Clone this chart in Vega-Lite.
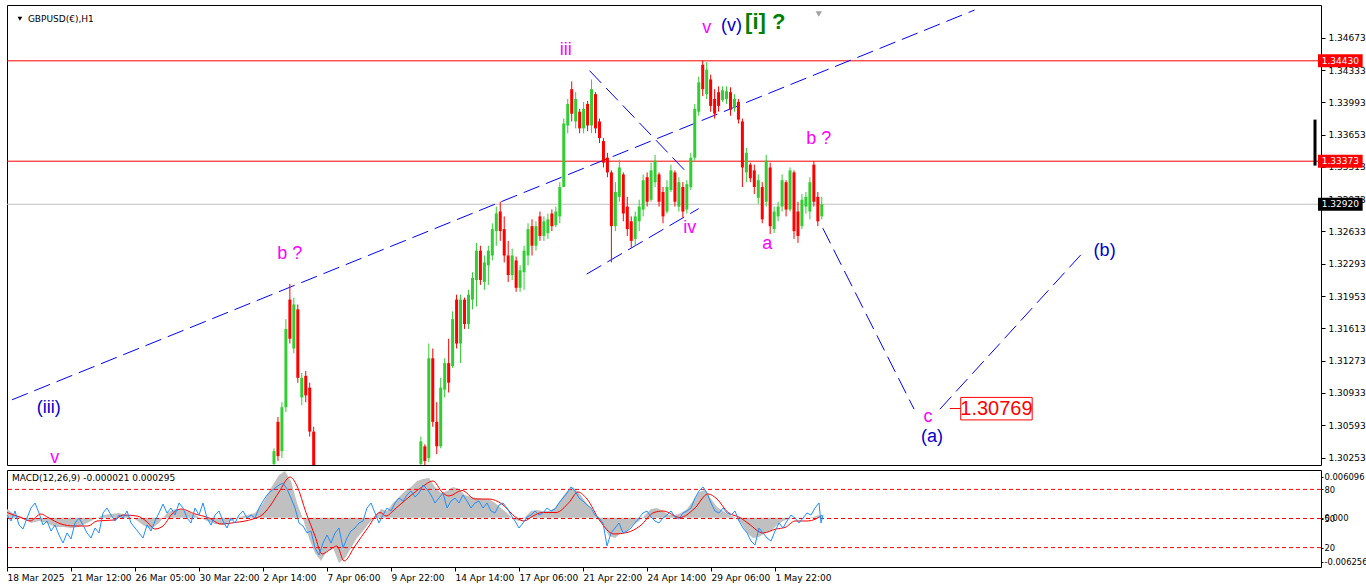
{
"$schema": "https://vega.github.io/schema/vega-lite/v6.json",
"background": "white",
"padding": {"left": 4, "top": 4, "right": 0, "bottom": 0},
"spacing": 3,
"config": {"view": {"stroke": "black", "strokeWidth": 1}, "axis": {"grid": false, "domain": false, "tickColor": "black", "labelColor": "black", "labelFont": "DejaVu Sans", "labelFontSize": 9, "labelOverlap": false, "labelFlush": false, "labelBound": false}},
"datasets": {
"candles": [
{"h":264,"o":1.30186,"hi":1.30350,"lo":1.30165,"c":1.30320},
{"h":268,"o":1.30629,"hi":1.30680,"lo":1.30217,"c":1.30268},
{"h":272,"o":1.30320,"hi":1.30835,"lo":1.30247,"c":1.30783},
{"h":276,"o":1.30783,"hi":1.31710,"lo":1.30732,"c":1.31607},
{"h":280,"o":1.31916,"hi":1.32081,"lo":1.31453,"c":1.31504},
{"h":284,"o":1.31401,"hi":1.31937,"lo":1.31350,"c":1.31865},
{"h":288,"o":1.31813,"hi":1.31865,"lo":1.31041,"c":1.31092},
{"h":292,"o":1.30886,"hi":1.31144,"lo":1.30804,"c":1.31092},
{"h":296,"o":1.31113,"hi":1.31164,"lo":1.30835,"c":1.30907},
{"h":300,"o":1.30989,"hi":1.31041,"lo":1.30474,"c":1.30526},
{"h":304,"o":1.30526,"hi":1.30577,"lo":1.30114,"c":1.30165},
{"h":412,"o":1.30186,"hi":1.30474,"lo":1.30165,"c":1.30423},
{"h":416,"o":1.30371,"hi":1.30392,"lo":1.30165,"c":1.30217},
{"h":420,"o":1.30247,"hi":1.31453,"lo":1.30206,"c":1.31298},
{"h":424,"o":1.31298,"hi":1.31401,"lo":1.30577,"c":1.30629},
{"h":428,"o":1.30629,"hi":1.30835,"lo":1.30289,"c":1.30371},
{"h":432,"o":1.30371,"hi":1.31092,"lo":1.30350,"c":1.30989},
{"h":436,"o":1.30968,"hi":1.31298,"lo":1.30886,"c":1.31247},
{"h":440,"o":1.31247,"hi":1.31504,"lo":1.30938,"c":1.31041},
{"h":444,"o":1.31216,"hi":1.31792,"lo":1.31195,"c":1.31710},
{"h":448,"o":1.31916,"hi":1.31968,"lo":1.31401,"c":1.31453},
{"h":452,"o":1.31453,"hi":1.31968,"lo":1.31247,"c":1.31916},
{"h":456,"o":1.31916,"hi":1.31937,"lo":1.31607,"c":1.31659},
{"h":460,"o":1.31659,"hi":1.32019,"lo":1.31607,"c":1.31968},
{"h":464,"o":1.31916,"hi":1.32204,"lo":1.31813,"c":1.32143},
{"h":468,"o":1.32122,"hi":1.32513,"lo":1.31844,"c":1.32431},
{"h":472,"o":1.32431,"hi":1.32483,"lo":1.32071,"c":1.32122},
{"h":476,"o":1.32101,"hi":1.32380,"lo":1.32019,"c":1.32307},
{"h":480,"o":1.32277,"hi":1.32483,"lo":1.32071,"c":1.32431},
{"h":484,"o":1.32380,"hi":1.32719,"lo":1.32328,"c":1.32658},
{"h":488,"o":1.32637,"hi":1.32895,"lo":1.32483,"c":1.32822},
{"h":492,"o":1.32843,"hi":1.32946,"lo":1.32534,"c":1.32637},
{"h":496,"o":1.32658,"hi":1.32792,"lo":1.32307,"c":1.32380},
{"h":500,"o":1.32380,"hi":1.32534,"lo":1.32101,"c":1.32174},
{"h":504,"o":1.32174,"hi":1.32452,"lo":1.32122,"c":1.32380},
{"h":508,"o":1.32328,"hi":1.32369,"lo":1.31998,"c":1.32040},
{"h":512,"o":1.32040,"hi":1.32277,"lo":1.31998,"c":1.32225},
{"h":516,"o":1.32204,"hi":1.32483,"lo":1.32019,"c":1.32431},
{"h":520,"o":1.32380,"hi":1.32719,"lo":1.32277,"c":1.32658},
{"h":524,"o":1.32689,"hi":1.32761,"lo":1.32380,"c":1.32483},
{"h":528,"o":1.32483,"hi":1.32740,"lo":1.32431,"c":1.32689},
{"h":532,"o":1.32792,"hi":1.32843,"lo":1.32534,"c":1.32586},
{"h":536,"o":1.32586,"hi":1.32792,"lo":1.32534,"c":1.32740},
{"h":540,"o":1.32616,"hi":1.32822,"lo":1.32555,"c":1.32761},
{"h":544,"o":1.32822,"hi":1.32864,"lo":1.32637,"c":1.32689},
{"h":548,"o":1.32699,"hi":1.32895,"lo":1.32678,"c":1.32843},
{"h":552,"o":1.32792,"hi":1.33152,"lo":1.32719,"c":1.33101},
{"h":556,"o":1.33101,"hi":1.33822,"lo":1.33101,"c":1.33770},
{"h":560,"o":1.33749,"hi":1.34028,"lo":1.33667,"c":1.33976},
{"h":564,"o":1.34131,"hi":1.34213,"lo":1.33791,"c":1.33873},
{"h":568,"o":1.33791,"hi":1.34100,"lo":1.33719,"c":1.34028},
{"h":572,"o":1.33894,"hi":1.33925,"lo":1.33667,"c":1.33719},
{"h":576,"o":1.33719,"hi":1.33997,"lo":1.33667,"c":1.33925},
{"h":580,"o":1.33976,"hi":1.34007,"lo":1.33688,"c":1.33749},
{"h":584,"o":1.33749,"hi":1.34234,"lo":1.33667,"c":1.34131},
{"h":588,"o":1.34079,"hi":1.34100,"lo":1.33667,"c":1.33719},
{"h":592,"o":1.33791,"hi":1.33822,"lo":1.33564,"c":1.33616},
{"h":596,"o":1.33585,"hi":1.33616,"lo":1.33307,"c":1.33358},
{"h":600,"o":1.33410,"hi":1.33461,"lo":1.33204,"c":1.33255},
{"h":604,"o":1.33255,"hi":1.33276,"lo":1.32307,"c":1.32689},
{"h":608,"o":1.32689,"hi":1.33152,"lo":1.32637,"c":1.33049},
{"h":612,"o":1.32998,"hi":1.33389,"lo":1.32946,"c":1.33307},
{"h":616,"o":1.33234,"hi":1.33255,"lo":1.32740,"c":1.32822},
{"h":620,"o":1.32895,"hi":1.32998,"lo":1.32586,"c":1.32658},
{"h":624,"o":1.32740,"hi":1.32792,"lo":1.32462,"c":1.32534},
{"h":628,"o":1.32555,"hi":1.32843,"lo":1.32483,"c":1.32792},
{"h":632,"o":1.32740,"hi":1.32967,"lo":1.32637,"c":1.32895},
{"h":636,"o":1.32864,"hi":1.33234,"lo":1.32792,"c":1.33173},
{"h":640,"o":1.33204,"hi":1.33255,"lo":1.32895,"c":1.32946},
{"h":644,"o":1.32967,"hi":1.33358,"lo":1.32946,"c":1.33276},
{"h":648,"o":1.33152,"hi":1.33440,"lo":1.33101,"c":1.33379},
{"h":652,"o":1.33234,"hi":1.33255,"lo":1.32895,"c":1.32946},
{"h":656,"o":1.33049,"hi":1.33101,"lo":1.32719,"c":1.32792},
{"h":660,"o":1.32843,"hi":1.33173,"lo":1.32822,"c":1.33101},
{"h":664,"o":1.33070,"hi":1.33337,"lo":1.33049,"c":1.33276},
{"h":668,"o":1.33255,"hi":1.33276,"lo":1.32895,"c":1.32946},
{"h":672,"o":1.32895,"hi":1.33204,"lo":1.32843,"c":1.33152},
{"h":676,"o":1.33101,"hi":1.33152,"lo":1.32781,"c":1.32843},
{"h":680,"o":1.32864,"hi":1.33173,"lo":1.32822,"c":1.33131},
{"h":684,"o":1.33101,"hi":1.33461,"lo":1.33070,"c":1.33410},
{"h":688,"o":1.33410,"hi":1.33976,"lo":1.33379,"c":1.33925},
{"h":692,"o":1.33894,"hi":1.34264,"lo":1.33852,"c":1.34203},
{"h":696,"o":1.34388,"hi":1.34430,"lo":1.34058,"c":1.34131},
{"h":700,"o":1.34079,"hi":1.34419,"lo":1.34028,"c":1.34337},
{"h":704,"o":1.34234,"hi":1.34285,"lo":1.33894,"c":1.33955},
{"h":708,"o":1.34028,"hi":1.34131,"lo":1.33822,"c":1.33873},
{"h":712,"o":1.34100,"hi":1.34161,"lo":1.33894,"c":1.33955},
{"h":716,"o":1.34017,"hi":1.34161,"lo":1.33997,"c":1.34120},
{"h":720,"o":1.34028,"hi":1.34161,"lo":1.33976,"c":1.34110},
{"h":724,"o":1.34100,"hi":1.34151,"lo":1.33852,"c":1.33914},
{"h":728,"o":1.33935,"hi":1.34079,"lo":1.33894,"c":1.34028},
{"h":732,"o":1.33997,"hi":1.34028,"lo":1.33770,"c":1.33811},
{"h":736,"o":1.33791,"hi":1.33822,"lo":1.33101,"c":1.33307},
{"h":740,"o":1.33255,"hi":1.33513,"lo":1.33152,"c":1.33461},
{"h":744,"o":1.33337,"hi":1.33358,"lo":1.33152,"c":1.33193},
{"h":748,"o":1.33276,"hi":1.33337,"lo":1.33028,"c":1.33101},
{"h":752,"o":1.32987,"hi":1.33234,"lo":1.32925,"c":1.33173},
{"h":756,"o":1.33101,"hi":1.33152,"lo":1.32719,"c":1.32761},
{"h":760,"o":1.32946,"hi":1.33440,"lo":1.32895,"c":1.33379},
{"h":764,"o":1.33307,"hi":1.33358,"lo":1.32606,"c":1.32689},
{"h":768,"o":1.32658,"hi":1.32895,"lo":1.32616,"c":1.32843},
{"h":772,"o":1.32792,"hi":1.32946,"lo":1.32740,"c":1.32895},
{"h":776,"o":1.32895,"hi":1.33234,"lo":1.32843,"c":1.33173},
{"h":780,"o":1.33152,"hi":1.33173,"lo":1.32792,"c":1.32864},
{"h":784,"o":1.32864,"hi":1.33307,"lo":1.32843,"c":1.33276},
{"h":788,"o":1.33255,"hi":1.33276,"lo":1.32555,"c":1.32637},
{"h":792,"o":1.32843,"hi":1.32946,"lo":1.32513,"c":1.32586},
{"h":796,"o":1.32689,"hi":1.33028,"lo":1.32658,"c":1.32967},
{"h":800,"o":1.32895,"hi":1.33049,"lo":1.32822,"c":1.32998},
{"h":804,"o":1.32843,"hi":1.33204,"lo":1.32761,"c":1.33152},
{"h":808,"o":1.33337,"hi":1.33373,"lo":1.32895,"c":1.32946},
{"h":812,"o":1.32998,"hi":1.33049,"lo":1.32689,"c":1.32740},
{"h":816,"o":1.32792,"hi":1.32998,"lo":1.32761,"c":1.32920}
],
"hist": [
{"h":0,"m":0.00113},{"h":8,"m":0.000366},{"h":16,"m":0.000111},{"h":24,"m":-0.000653},{"h":32,"m":-0.000398},{"h":40,"m":-0.000653},{"h":48,"m":-0.001162},{"h":56,"m":-0.001162},{"h":64,"m":-0.00129},{"h":72,"m":-0.001162},{"h":80,"m":-0.000653},{"h":88,"m":-0.000144},{"h":96,"m":0.000366},{"h":104,"m":0.000493},{"h":112,"m":0.00062},{"h":120,"m":0.000366},{"h":128,"m":-0.000144},{"h":136,"m":-0.000908},{"h":144,"m":-0.001417},{"h":152,"m":-0.000653},{"h":160,"m":0.00062},{"h":168,"m":0.00113},{"h":176,"m":0.001002},{"h":184,"m":0.00062},{"h":192,"m":0.000111},{"h":200,"m":-0.000398},{"h":208,"m":-0.00078},{"h":216,"m":-0.000908},{"h":224,"m":-0.000398},{"h":232,"m":0.000111},{"h":240,"m":0.000366},{"h":248,"m":0.00062},{"h":256,"m":0.001894},{"h":264,"m":0.003804},{"h":272,"m":0.005459},{"h":278,"m":0.005969},{"h":284,"m":0.004695},{"h":290,"m":0.001894},{"h":296,"m":-0.000144},{"h":302,"m":-0.002563},{"h":308,"m":-0.004473},{"h":314,"m":-0.005492},{"h":320,"m":-0.004219},{"h":326,"m":-0.003837},{"h":332,"m":-0.005747},{"h":338,"m":-0.00511},{"h":344,"m":-0.003837},{"h":350,"m":-0.002563},{"h":356,"m":-0.001672},{"h":362,"m":-0.000653},{"h":368,"m":0.000111},{"h":374,"m":0.00113},{"h":380,"m":0.000875},{"h":386,"m":0.001894},{"h":392,"m":0.002658},{"h":398,"m":0.003422},{"h":404,"m":0.003931},{"h":410,"m":0.004695},{"h":416,"m":0.00495},{"h":422,"m":0.005077},{"h":428,"m":0.003931},{"h":434,"m":0.003167},{"h":440,"m":0.003422},{"h":446,"m":0.003931},{"h":452,"m":0.003677},{"h":458,"m":0.002912},{"h":464,"m":0.002658},{"h":470,"m":0.00253},{"h":476,"m":0.002403},{"h":482,"m":0.002403},{"h":488,"m":0.001894},{"h":494,"m":0.001257},{"h":500,"m":0.00062},{"h":506,"m":-0.000144},{"h":512,"m":-0.000398},{"h":518,"m":0.000111},{"h":524,"m":0.000875},{"h":530,"m":0.001002},{"h":536,"m":0.000875},{"h":542,"m":0.000875},{"h":548,"m":0.001257},{"h":554,"m":0.002403},{"h":560,"m":0.003422},{"h":566,"m":0.003931},{"h":572,"m":0.003167},{"h":578,"m":0.002148},{"h":584,"m":0.00113},{"h":590,"m":0.000111},{"h":596,"m":-0.000908},{"h":602,"m":-0.002308},{"h":608,"m":-0.002563},{"h":614,"m":-0.001926},{"h":620,"m":-0.001672},{"h":626,"m":-0.000908},{"h":632,"m":-0.000398},{"h":638,"m":0.000366},{"h":644,"m":0.00113},{"h":650,"m":0.001257},{"h":656,"m":0.000875},{"h":662,"m":0.000366},{"h":668,"m":0.000366},{"h":674,"m":0.00062},{"h":680,"m":0.00113},{"h":686,"m":0.002148},{"h":692,"m":0.003295},{"h":698,"m":0.003549},{"h":704,"m":0.002403},{"h":710,"m":0.001384},{"h":716,"m":0.000875},{"h":722,"m":0.000366},{"h":728,"m":0.000111},{"h":734,"m":-0.000653},{"h":740,"m":-0.001926},{"h":746,"m":-0.002563},{"h":752,"m":-0.002436},{"h":758,"m":-0.001926},{"h":764,"m":-0.001672},{"h":770,"m":-0.000908},{"h":776,"m":-0.000398},{"h":782,"m":-0.000144},{"h":788,"m":0.000111},{"h":794,"m":-0.000144},{"h":800,"m":-0.000017},{"h":806,"m":0.000111},{"h":812,"m":0.000366},{"h":816,"m":-0.000021}
],
"signal": [
{"h":0,"s":0.000684},{"h":14,"s":0.000047},{"h":23,"s":-0.000398},{"h":34,"s":0.000493},{"h":41,"s":0.000047},{"h":54,"s":-0.00078},{"h":67,"s":-0.001035},{"h":81,"s":-0.001035},{"h":90,"s":-0.000398},{"h":107,"s":-0.000271},{"h":116,"s":0.000365},{"h":130,"s":0.000238},{"h":139,"s":-0.000398},{"h":148,"s":-0.001417},{"h":156,"s":-0.001035},{"h":165,"s":0.000493},{"h":174,"s":0.00113},{"h":188,"s":0.000493},{"h":201,"s":0.000047},{"h":214,"s":-0.00078},{"h":228,"s":-0.000589},{"h":246,"s":-0.000144},{"h":255,"s":0.000365},{"h":263,"s":0.001512},{"h":272,"s":0.003295},{"h":283,"s":0.005205},{"h":290,"s":0.004059},{"h":299,"s":0.000684},{"h":308,"s":-0.002308},{"h":315,"s":-0.004601},{"h":324,"s":-0.003964},{"h":330,"s":-0.003582},{"h":337,"s":-0.005492},{"h":348,"s":-0.003582},{"h":361,"s":-0.001226},{"h":373,"s":0.000684},{"h":379,"s":0.000238},{"h":388,"s":0.00113},{"h":402,"s":0.002658},{"h":415,"s":0.003931},{"h":426,"s":0.004695},{"h":435,"s":0.003295},{"h":442,"s":0.002785},{"h":455,"s":0.003486},{"h":468,"s":0.002403},{"h":482,"s":0.002403},{"h":495,"s":0.001766},{"h":509,"s":0.000047},{"h":517,"s":-0.000398},{"h":526,"s":0.000238},{"h":535,"s":0.000684},{"h":549,"s":0.000684},{"h":562,"s":0.001957},{"h":571,"s":0.003295},{"h":580,"s":0.002403},{"h":593,"s":-0.000398},{"h":607,"s":-0.002054},{"h":620,"s":-0.001863},{"h":633,"s":-0.001035},{"h":647,"s":0.000684},{"h":656,"s":0.000875},{"h":673,"s":0.000047},{"h":687,"s":0.00113},{"h":701,"s":0.00304},{"h":710,"s":0.002403},{"h":721,"s":0.000684},{"h":733,"s":0.000047},{"h":742,"s":-0.00078},{"h":756,"s":-0.001926},{"h":769,"s":-0.001417},{"h":778,"s":-0.001226},{"h":788,"s":-0.000398},{"h":801,"s":-0.000398},{"h":815,"s":0.000295}
],
"osc": [
{"h":0,"v":53.6},{"h":4,"v":47.4},{"h":8,"v":57.7},{"h":12,"v":43.3},{"h":16,"v":39.2},{"h":20,"v":50.5},{"h":24,"v":60.8},{"h":28,"v":66.0},{"h":32,"v":55.7},{"h":36,"v":43.3},{"h":40,"v":47.4},{"h":44,"v":37.1},{"h":48,"v":43.3},{"h":52,"v":33.0},{"h":56,"v":24.7},{"h":60,"v":35.1},{"h":64,"v":28.9},{"h":68,"v":45.4},{"h":72,"v":50.5},{"h":76,"v":43.3},{"h":80,"v":35.1},{"h":84,"v":29.9},{"h":88,"v":40.2},{"h":92,"v":35.1},{"h":96,"v":55.7},{"h":100,"v":60.8},{"h":104,"v":53.6},{"h":108,"v":47.4},{"h":112,"v":53.6},{"h":116,"v":50.5},{"h":120,"v":57.7},{"h":124,"v":45.4},{"h":128,"v":40.2},{"h":132,"v":35.1},{"h":136,"v":29.9},{"h":140,"v":43.3},{"h":144,"v":37.1},{"h":148,"v":47.4},{"h":152,"v":55.7},{"h":156,"v":64.9},{"h":160,"v":55.7},{"h":164,"v":60.8},{"h":168,"v":53.6},{"h":172,"v":66.0},{"h":176,"v":60.8},{"h":180,"v":50.5},{"h":184,"v":45.4},{"h":188,"v":60.8},{"h":192,"v":53.6},{"h":196,"v":66.0},{"h":200,"v":50.5},{"h":204,"v":43.3},{"h":208,"v":53.6},{"h":212,"v":57.7},{"h":216,"v":47.4},{"h":220,"v":40.2},{"h":224,"v":50.5},{"h":228,"v":45.4},{"h":232,"v":53.6},{"h":236,"v":57.7},{"h":240,"v":50.5},{"h":244,"v":53.6},{"h":248,"v":50.5},{"h":252,"v":60.8},{"h":256,"v":68.0},{"h":260,"v":74.2},{"h":264,"v":78.4},{"h":268,"v":81.4},{"h":272,"v":84.5},{"h":276,"v":86.6},{"h":280,"v":80.4},{"h":284,"v":71.1},{"h":288,"v":60.8},{"h":292,"v":45.4},{"h":296,"v":42.3},{"h":300,"v":35.1},{"h":304,"v":37.1},{"h":308,"v":19.6},{"h":312,"v":12.4},{"h":316,"v":24.7},{"h":320,"v":33.0},{"h":324,"v":24.7},{"h":328,"v":35.1},{"h":332,"v":40.2},{"h":336,"v":19.6},{"h":340,"v":29.9},{"h":344,"v":37.1},{"h":348,"v":40.2},{"h":352,"v":45.4},{"h":356,"v":47.4},{"h":360,"v":60.8},{"h":364,"v":66.0},{"h":368,"v":55.7},{"h":372,"v":45.4},{"h":376,"v":53.6},{"h":380,"v":60.8},{"h":384,"v":57.7},{"h":388,"v":66.0},{"h":392,"v":71.1},{"h":396,"v":68.0},{"h":400,"v":74.2},{"h":404,"v":78.4},{"h":408,"v":72.2},{"h":412,"v":76.3},{"h":416,"v":84.5},{"h":420,"v":80.4},{"h":424,"v":74.2},{"h":428,"v":66.0},{"h":432,"v":71.1},{"h":436,"v":76.3},{"h":440,"v":60.8},{"h":444,"v":68.0},{"h":448,"v":71.1},{"h":452,"v":66.0},{"h":456,"v":74.2},{"h":460,"v":68.0},{"h":464,"v":60.8},{"h":468,"v":66.0},{"h":472,"v":68.0},{"h":476,"v":60.8},{"h":480,"v":66.0},{"h":484,"v":57.7},{"h":488,"v":55.7},{"h":492,"v":63.9},{"h":496,"v":66.0},{"h":500,"v":60.8},{"h":504,"v":53.6},{"h":508,"v":47.4},{"h":512,"v":40.2},{"h":516,"v":45.4},{"h":520,"v":51.5},{"h":524,"v":53.6},{"h":528,"v":57.7},{"h":532,"v":53.6},{"h":536,"v":55.7},{"h":540,"v":60.8},{"h":544,"v":57.7},{"h":548,"v":59.8},{"h":552,"v":66.0},{"h":556,"v":71.1},{"h":560,"v":76.3},{"h":564,"v":82.5},{"h":568,"v":78.4},{"h":572,"v":71.1},{"h":576,"v":68.0},{"h":580,"v":63.9},{"h":584,"v":60.8},{"h":588,"v":53.6},{"h":592,"v":50.5},{"h":596,"v":45.4},{"h":600,"v":21.7},{"h":604,"v":35.1},{"h":608,"v":40.2},{"h":612,"v":45.4},{"h":616,"v":35.1},{"h":620,"v":37.1},{"h":624,"v":40.2},{"h":628,"v":45.4},{"h":632,"v":50.5},{"h":636,"v":55.7},{"h":640,"v":57.7},{"h":644,"v":51.5},{"h":648,"v":47.4},{"h":652,"v":45.4},{"h":656,"v":50.5},{"h":660,"v":53.6},{"h":664,"v":57.7},{"h":668,"v":51.5},{"h":672,"v":49.5},{"h":676,"v":55.7},{"h":680,"v":57.7},{"h":684,"v":60.8},{"h":688,"v":71.1},{"h":692,"v":78.4},{"h":696,"v":82.5},{"h":700,"v":76.3},{"h":704,"v":66.0},{"h":708,"v":57.7},{"h":712,"v":55.7},{"h":716,"v":60.8},{"h":720,"v":55.7},{"h":724,"v":53.6},{"h":728,"v":57.7},{"h":732,"v":47.4},{"h":736,"v":40.2},{"h":740,"v":35.1},{"h":744,"v":26.8},{"h":748,"v":22.7},{"h":752,"v":40.2},{"h":756,"v":35.1},{"h":760,"v":29.9},{"h":764,"v":26.8},{"h":768,"v":37.1},{"h":772,"v":45.4},{"h":776,"v":40.2},{"h":780,"v":47.4},{"h":784,"v":53.6},{"h":788,"v":50.5},{"h":792,"v":45.4},{"h":796,"v":50.5},{"h":800,"v":55.7},{"h":804,"v":53.6},{"h":808,"v":60.8},{"h":812,"v":66.0},{"h":814,"v":45.4},{"h":816,"v":53.6}
]
},
"vconcat": [
{
"width": 1314, "height": 460,
"layer": [
{"data": {"values": [{"p":1.3443,"col":"#FF0000"},{"p":1.33373,"col":"#FF0000"},{"p":1.3292,"col":"#C0C0C0"}]},
 "mark": {"type":"rule","strokeWidth":1},
 "encoding": {"y": {"field":"p","type":"quantitative","scale":{"domain":[1.30227,1.34965],"nice":false,"zero":false},
   "axis": {"orient":"right","values":[1.30253,1.30593,1.30933,1.31273,1.31613,1.31953,1.32293,1.32633,1.32973,1.33313,1.33653,1.33993,1.34333,1.34673],"tickCount":40,"format":".5f","title":null,"grid":false,"domain":false,"tickSize":4,"tickColor":"black","labelFont":"DejaVu Sans","labelFontSize":9,"labelColor":"black","labelPadding":3,"labelOverlap":false,"labelFlush":false}},
  "color": {"field":"col","type":"nominal","scale":null}}},
{"data": {"values": [{"h1":0,"p1":1.30861,"h2":970,"p2":1.34965},{"h1":582,"p1":1.34326,"h2":678,"p2":1.33276},{"h1":579,"p1":1.32184,"h2":692,"p2":1.32874},{"h1":817,"p1":1.32668,"h2":909,"p2":1.30762},{"h1":935,"p1":1.30762,"h2":1080,"p2":1.32421}]},
 "mark": {"type":"rule","color":"#0000FF","strokeWidth":1,"strokeDash":[17,7],"clip":true},
 "encoding": {"x":{"field":"h1","type":"quantitative","scale":{"domain":[0,1314],"nice":false,"zero":false},"axis":null},"x2":{"field":"h2"},
  "y":{"field":"p1","type":"quantitative","scale":{"domain":[1.30227,1.34965],"nice":false,"zero":false}},"y2":{"field":"p2"}}},
{"data": {"name":"candles"},
 "mark": {"type":"rule","strokeWidth":1,"clip":true},
 "encoding": {"x":{"field":"h","type":"quantitative","scale":{"domain":[0,1314],"nice":false,"zero":false},"axis":null},
  "y":{"field":"lo","type":"quantitative","scale":{"domain":[1.30227,1.34965],"nice":false,"zero":false}},"y2":{"field":"hi"},
  "color":{"condition":{"test":"datum.c >= datum.o","value":"#32CD32"},"value":"#FF0000"}}},
{"data": {"name":"candles"},
 "mark": {"type":"bar","size":3,"clip":true},
 "encoding": {"x":{"field":"h","type":"quantitative","scale":{"domain":[0,1314],"nice":false,"zero":false},"axis":null},
  "y":{"field":"o","type":"quantitative","scale":{"domain":[1.30227,1.34965],"nice":false,"zero":false}},"y2":{"field":"c"},
  "color":{"condition":{"test":"datum.c >= datum.o","value":"#32CD32"},"value":"#FF0000"}}},
{"data": {"values": [{"h":558,"p":1.34543,"t":"iii","col":"#FF00FF"},{"h":700,"p":1.34779,"t":"v","col":"#FF00FF"},{"h":725,"p":1.348,"t":"(v)","col":"#0000CD"},{"h":813,"p":1.33605,"t":"b ?","col":"#FF00FF"},{"h":280,"p":1.324,"t":"b ?","col":"#FF00FF"},{"h":683,"p":1.32668,"t":"iv","col":"#FF00FF"},{"h":761,"p":1.32503,"t":"a","col":"#FF00FF"},{"h":923,"p":1.3068,"t":"c","col":"#FF00FF"},{"h":927,"p":1.30464,"t":"(a)","col":"#0000CD"},{"h":1101,"p":1.32431,"t":"(b)","col":"#0000CD"},{"h":37,"p":1.30773,"t":"(iii)","col":"#0000CD"},{"h":43,"p":1.30247,"t":"v","col":"#FF00FF"}]},
 "mark": {"type":"text","font":"Liberation Sans","fontSize":18,"align":"center","baseline":"middle","clip":true},
 "encoding": {"x":{"field":"h","type":"quantitative","scale":{"domain":[0,1314],"nice":false,"zero":false},"axis":null},
  "y":{"field":"p","type":"quantitative","scale":{"domain":[1.30227,1.34965],"nice":false,"zero":false}},
  "text":{"field":"t"},"color":{"field":"col","type":"nominal","scale":null}}},
{"data": {"values": [{"h":759,"p":1.34841,"t":"[i] ?"}]},
 "mark": {"type":"text","font":"Liberation Sans","fontSize":22,"fontWeight":"bold","align":"center","baseline":"middle","color":"#008000","clip":true},
 "encoding": {"x":{"field":"h","type":"quantitative","scale":{"domain":[0,1314],"nice":false,"zero":false},"axis":null},
  "y":{"field":"p","type":"quantitative","scale":{"domain":[1.30227,1.34965],"nice":false,"zero":false}},
  "text":{"field":"t"}}},
{"data": {"values": [{"h1":956,"h2":1028,"p1":1.30886,"p2":1.30649}]},
 "mark": {"type":"rect","fill":"white","stroke":"#FF0000","strokeWidth":1},
 "encoding": {"x":{"field":"h1","type":"quantitative","scale":{"domain":[0,1314],"nice":false,"zero":false},"axis":null},"x2":{"field":"h2"},
  "y":{"field":"p1","type":"quantitative","scale":{"domain":[1.30227,1.34965],"nice":false,"zero":false}},"y2":{"field":"p2"}}},
{"data": {"values": [{"h1":945,"h2":956,"p":1.30769}]},
 "mark": {"type":"rule","color":"#FF0000","strokeWidth":1},
 "encoding": {"x":{"field":"h1","type":"quantitative","scale":{"domain":[0,1314],"nice":false,"zero":false},"axis":null},"x2":{"field":"h2"},
  "y":{"field":"p","type":"quantitative","scale":{"domain":[1.30227,1.34965],"nice":false,"zero":false}}}},
{"data": {"values": [{"p":1.30769,"t":"1.30769","hc":992}]},
 "mark": {"type":"text","font":"Liberation Sans","fontSize":20,"align":"center","baseline":"middle","color":"#FF0000"},
 "encoding": {"x":{"field":"hc","type":"quantitative","scale":{"domain":[0,1314],"nice":false,"zero":false},"axis":null},
  "y":{"field":"p","type":"quantitative","scale":{"domain":[1.30227,1.34965],"nice":false,"zero":false}},
  "text":{"field":"t"}}},
{"data": {"values": [{"p":1.3443,"t":"1.34430","col":"#FF0000"},{"p":1.33373,"t":"1.33373","col":"#FF0000"},{"p":1.3292,"t":"1.32920","col":"#000000"}]},
 "mark": {"type":"bar","orient":"horizontal","size":13,"clip":false},
 "encoding": {"x":{"datum":1316,"type":"quantitative","scale":{"domain":[0,1314],"nice":false,"zero":false},"axis":null},"x2":{"datum":1361},
  "y":{"field":"p","type":"quantitative","scale":{"domain":[1.30227,1.34965],"nice":false,"zero":false}},
  "color":{"field":"col","type":"nominal","scale":null}}},
{"data": {"values": [{"p":1.3443,"t":"1.34430"},{"p":1.33373,"t":"1.33373"},{"p":1.3292,"t":"1.32920"}]},
 "mark": {"type":"text","font":"DejaVu Sans","fontSize":9,"align":"center","baseline":"middle","color":"white","clip":false},
 "encoding": {"x":{"datum":1338.5,"type":"quantitative","scale":{"domain":[0,1314],"nice":false,"zero":false},"axis":null},
  "y":{"field":"p","type":"quantitative","scale":{"domain":[1.30227,1.34965],"nice":false,"zero":false}},
  "text":{"field":"t"}}},
{"data": {"values": [{"h":16,"p":1.34872,"t":"GBPUSD(€),H1"}]},
 "mark": {"type":"text","font":"DejaVu Sans","fontSize":9,"align":"left","baseline":"middle","color":"black"},
 "encoding": {"x":{"field":"h","type":"quantitative","scale":{"domain":[0,1314],"nice":false,"zero":false},"axis":null},
  "y":{"field":"p","type":"quantitative","scale":{"domain":[1.30227,1.34965],"nice":false,"zero":false}},
  "text":{"field":"t"}}},
{"data": {"values": [{"h":8,"p":1.34872,"col":"black","sz":22},{"h":813,"p":1.34924,"col":"#A0A0A0","sz":40}]},
 "mark": {"type":"point","shape":"triangle-down","filled":true,"opacity":1,"clip":true},
 "encoding": {"x":{"field":"h","type":"quantitative","scale":{"domain":[0,1314],"nice":false,"zero":false},"axis":null},
  "y":{"field":"p","type":"quantitative","scale":{"domain":[1.30227,1.34965],"nice":false,"zero":false}},
  "color":{"field":"col","type":"nominal","scale":null},"size":{"field":"sz","type":"quantitative","scale":null}}},
{"data": {"values": [{"h":1313,"p1":1.33811,"p2":1.33327}]},
 "mark": {"type":"rule","color":"black","strokeWidth":3},
 "encoding": {"x":{"field":"h","type":"quantitative","scale":{"domain":[0,1314],"nice":false,"zero":false},"axis":null},
  "y":{"field":"p1","type":"quantitative","scale":{"domain":[1.30227,1.34965],"nice":false,"zero":false}},"y2":{"field":"p2"}}}
]
},
{
"width": 1314, "height": 97,
"layer": [
 {"layer": [
  {"data": {"name":"hist"},
   "mark": {"type":"area","color":"#C0C0C0","opacity":1},
   "encoding": {"x":{"field":"h","type":"quantitative","scale":{"domain":[0,1314],"nice":false,"zero":false},
      "axis":{"orient":"bottom","values":[0,64,128,192,256,320,384,448,512,576,640,704,768],"tickCount":40,"labelExpr":"['18 Mar 2025','21 Mar 12:00','26 Mar 05:00','30 Mar 22:00','2 Apr 14:00','7 Apr 06:00','9 Apr 22:00','14 Apr 14:00','17 Apr 06:00','21 Apr 22:00','24 Apr 14:00','29 Apr 06:00','1 May 22:00'][round(datum.value/64)]","title":null,"grid":false,"domain":false,"tickSize":4,"tickColor":"black","labelAlign":"left","labelPadding":2,"labelFont":"DejaVu Sans","labelFontSize":9,"labelColor":"black","labelOverlap":false,"labelFlush":false}},
    "y":{"field":"m","type":"quantitative","scale":{"domain":[-0.006256,0.006096],"nice":false,"zero":false},
      "axis":{"orient":"right","values":[0.005205,0,-0.005619],"labelExpr":"datum.value > 0.001 ? '0.006096' : datum.value < -0.001 ? '-0.006256' : '0.000'","title":null,"grid":false,"domain":false,"tickSize":2,"tickColor":"black","labelFont":"DejaVu Sans","labelFontSize":8.4,"labelColor":"black","labelPadding":1,"labelOverlap":false,"labelFlush":false}},
    "y2":{"datum":0}}},
  {"data": {"name":"signal"},
   "mark": {"type":"line","color":"#FF0000","strokeWidth":1,"interpolate":"monotone"},
   "encoding": {"x":{"field":"h","type":"quantitative","scale":{"domain":[0,1314],"nice":false,"zero":false}},
    "y":{"field":"s","type":"quantitative","scale":{"domain":[-0.006256,0.006096],"nice":false,"zero":false}}}}
 ]},
 {"layer": [
  {"data": {"values":[{"lv":80},{"lv":50},{"lv":20}]},
   "mark": {"type":"rule","color":"#FF0000","strokeWidth":1,"strokeDash":[4,3]},
   "encoding": {"y":{"field":"lv","type":"quantitative","scale":{"domain":[0,100],"nice":false,"zero":false},
     "axis":{"orient":"right","values":[80,50,20],"title":null,"grid":false,"domain":false,"tickSize":2,"tickColor":"black","labelFont":"DejaVu Sans","labelFontSize":8.4,"labelColor":"black","labelPadding":1,"labelOverlap":false,"labelFlush":false}}}},
  {"data": {"name":"osc"},
   "mark": {"type":"line","color":"#1E90FF","strokeWidth":1},
   "encoding": {"x":{"field":"h","type":"quantitative","scale":{"domain":[0,1314],"nice":false,"zero":false}},
    "y":{"field":"v","type":"quantitative","scale":{"domain":[0,100],"nice":false,"zero":false}}}},
  {"data": {"values":[{"t":"MACD(12,26,9) -0.000021 0.000295","h":5,"v":91.75}]},
   "mark": {"type":"text","font":"DejaVu Sans","fontSize":9,"align":"left","baseline":"middle","color":"black"},
   "encoding": {"x":{"field":"h","type":"quantitative","scale":{"domain":[0,1314],"nice":false,"zero":false}},
    "y":{"field":"v","type":"quantitative","scale":{"domain":[0,100],"nice":false,"zero":false}},
    "text":{"field":"t"}}}
 ]}
],
"resolve": {"scale": {"y": "independent"}}
}
]
}
